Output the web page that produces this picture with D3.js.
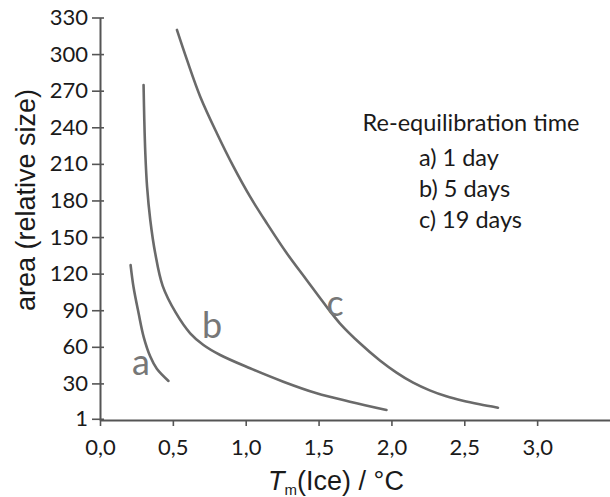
<!DOCTYPE html>
<html>
<head>
<meta charset="utf-8">
<script src="https://cdn.jsdelivr.net/npm/d3@7"></script>
<style>
body { margin: 0; background: #fff; }
</style>
</head>
<body>
<svg id="chart"></svg>
<script>
const xTicks = [0, 0.5, 1.0, 1.5, 2.0, 2.5, 3.0];
const yTicks = [1, 30, 60, 90, 120, 150, 180, 210, 240, 270, 300, 330];

// curve a) 1 day
const aX = [0.21, 0.23, 0.265, 0.30, 0.345, 0.39, 0.47];
const aY = [127, 109, 87.5, 68, 52, 42, 32];
// curve b) 5 days
const bX = [0.299, 0.304, 0.311, 0.323, 0.345, 0.379, 0.43, 0.52, 0.619, 0.71, 0.825, 1.03, 1.258, 1.487, 1.715, 1.966];
const bY = [274.7, 246, 218.7, 191.3, 164, 136.7, 110, 88, 71.1, 61.5, 53.3, 42.4, 31.4, 21.9, 15, 8.2];
// curve c) 19 days
const cX = [0.528, 0.597, 0.688, 0.802, 0.916, 1.03, 1.145, 1.282, 1.418, 1.555, 1.646, 1.784, 1.921, 2.035, 2.149, 2.263, 2.377, 2.491, 2.605, 2.731];
const cY = [319.8, 295.2, 265.1, 235.1, 207.7, 183.1, 161.3, 136.7, 114.8, 92.9, 79.3, 62.9, 48.8, 38.9, 30.6, 24.3, 19.4, 15.8, 12.9, 10.1];

const curveNames = ["a", "b", "c"];
const curveLabelX = [0.22, 0.70, 1.555];
const curveLabelY = [37, 67, 85];

const legendTitle = "Re-equilibration time";
const legendItems = ["a) 1 day", "b) 5 days", "c) 19 days"];

const width = 610;
const height = 497;
const margin = { top: 17.5, right: 0, bottom: 77, left: 100 };
const chartWidth = width - margin.left - margin.right;
const chartHeight = height - margin.top - margin.bottom;

const labelFont = "Lato, 'Open Sans', sans-serif";
const titleFont = "'Liberation Sans', Arial, sans-serif";

const svg = d3.select("#chart")
    .attr("width", width)
    .attr("height", height)
    .style("background-color", "#fff");

const xScale = d3.scaleLinear()
    .domain([0, 3.5])
    .range([0, chartWidth]);

const yScale = d3.scaleLinear()
    .domain([0, 330])
    .range([chartHeight, 0]);

const chart = svg.append("g")
    .attr("transform", "translate(" + margin.left + "," + margin.top + ")");

const series = [
    aX.map((x, i) => [x, aY[i]]),
    bX.map((x, i) => [x, bY[i]]),
    cX.map((x, i) => [x, cY[i]])
];

const lineGen = d3.line()
    .x(d => xScale(d[0]))
    .y(d => yScale(d[1]))
    .curve(d3.curveCatmullRom.alpha(0.5));

chart.selectAll(".curve")
    .data(series)
    .enter()
    .append("path")
    .attr("class", "curve")
    .attr("d", lineGen)
    .style("fill", "none")
    .style("stroke", "#6a6a6a")
    .style("stroke-width", "2.6px")
    .style("stroke-linecap", "round");

chart.selectAll(".curve-label")
    .data(curveNames)
    .enter()
    .append("text")
    .attr("class", "curve-label")
    .attr("x", (d, i) => xScale(curveLabelX[i]))
    .attr("y", (d, i) => yScale(curveLabelY[i]))
    .style("font-family", labelFont)
    .style("font-size", "36px")
    .style("fill", "#777")
    .text(d => d);

const xAxis = d3.axisBottom(xScale)
    .tickValues(xTicks)
    .tickSizeInner(6)
    .tickSizeOuter(0)
    .tickPadding(13)
    .tickFormat(d => d3.format(".1f")(d).replace(".", ","));

const yAxis = d3.axisLeft(yScale)
    .tickValues(yTicks)
    .tickSizeInner(8)
    .tickSizeOuter(0)
    .tickPadding(4);

const gx = chart.append("g")
    .attr("transform", "translate(0," + chartHeight + ")")
    .call(xAxis);

const gy = chart.append("g")
    .call(yAxis);

gy.selectAll(".tick line").attr("x1", 4);

[gx, gy].forEach(g => {
    g.select(".domain").style("stroke", "#555").style("stroke-width", "2px");
    g.selectAll(".tick line").style("stroke", "#555").style("stroke-width", "1.6px");
    g.selectAll("text")
        .style("font-family", labelFont)
        .style("font-size", "22px")
        .style("fill", "#1a1a1a");
});

// legend
svg.append("text")
    .attr("x", 471)
    .attr("y", 131)
    .attr("text-anchor", "middle")
    .style("font-family", labelFont)
    .style("font-size", "23.5px")
    .style("fill", "#1a1a1a")
    .text(legendTitle);

svg.selectAll(".legend-item")
    .data(legendItems)
    .enter()
    .append("text")
    .attr("class", "legend-item")
    .attr("x", 419)
    .attr("y", (d, i) => 166 + i * 31)
    .style("font-family", labelFont)
    .style("font-size", "23.5px")
    .style("fill", "#1a1a1a")
    .text(d => d);

// axis titles
svg.append("text")
    .attr("transform", "translate(35,200) rotate(-90)")
    .attr("text-anchor", "middle")
    .style("font-family", titleFont)
    .style("font-size", "27px")
    .style("fill", "#1a1a1a")
    .text("area (relative size)");

const xTitle = svg.append("text")
    .attr("x", 336)
    .attr("y", 490)
    .attr("text-anchor", "middle")
    .style("font-family", titleFont)
    .style("font-size", "27px")
    .style("fill", "#1a1a1a");

xTitle.append("tspan").style("font-style", "italic").text("T");
xTitle.append("tspan").attr("dy", 5).style("font-size", "15px").text("m");
xTitle.append("tspan").attr("dy", -5).text("(Ice) / °C");
</script>
</body>
</html>
